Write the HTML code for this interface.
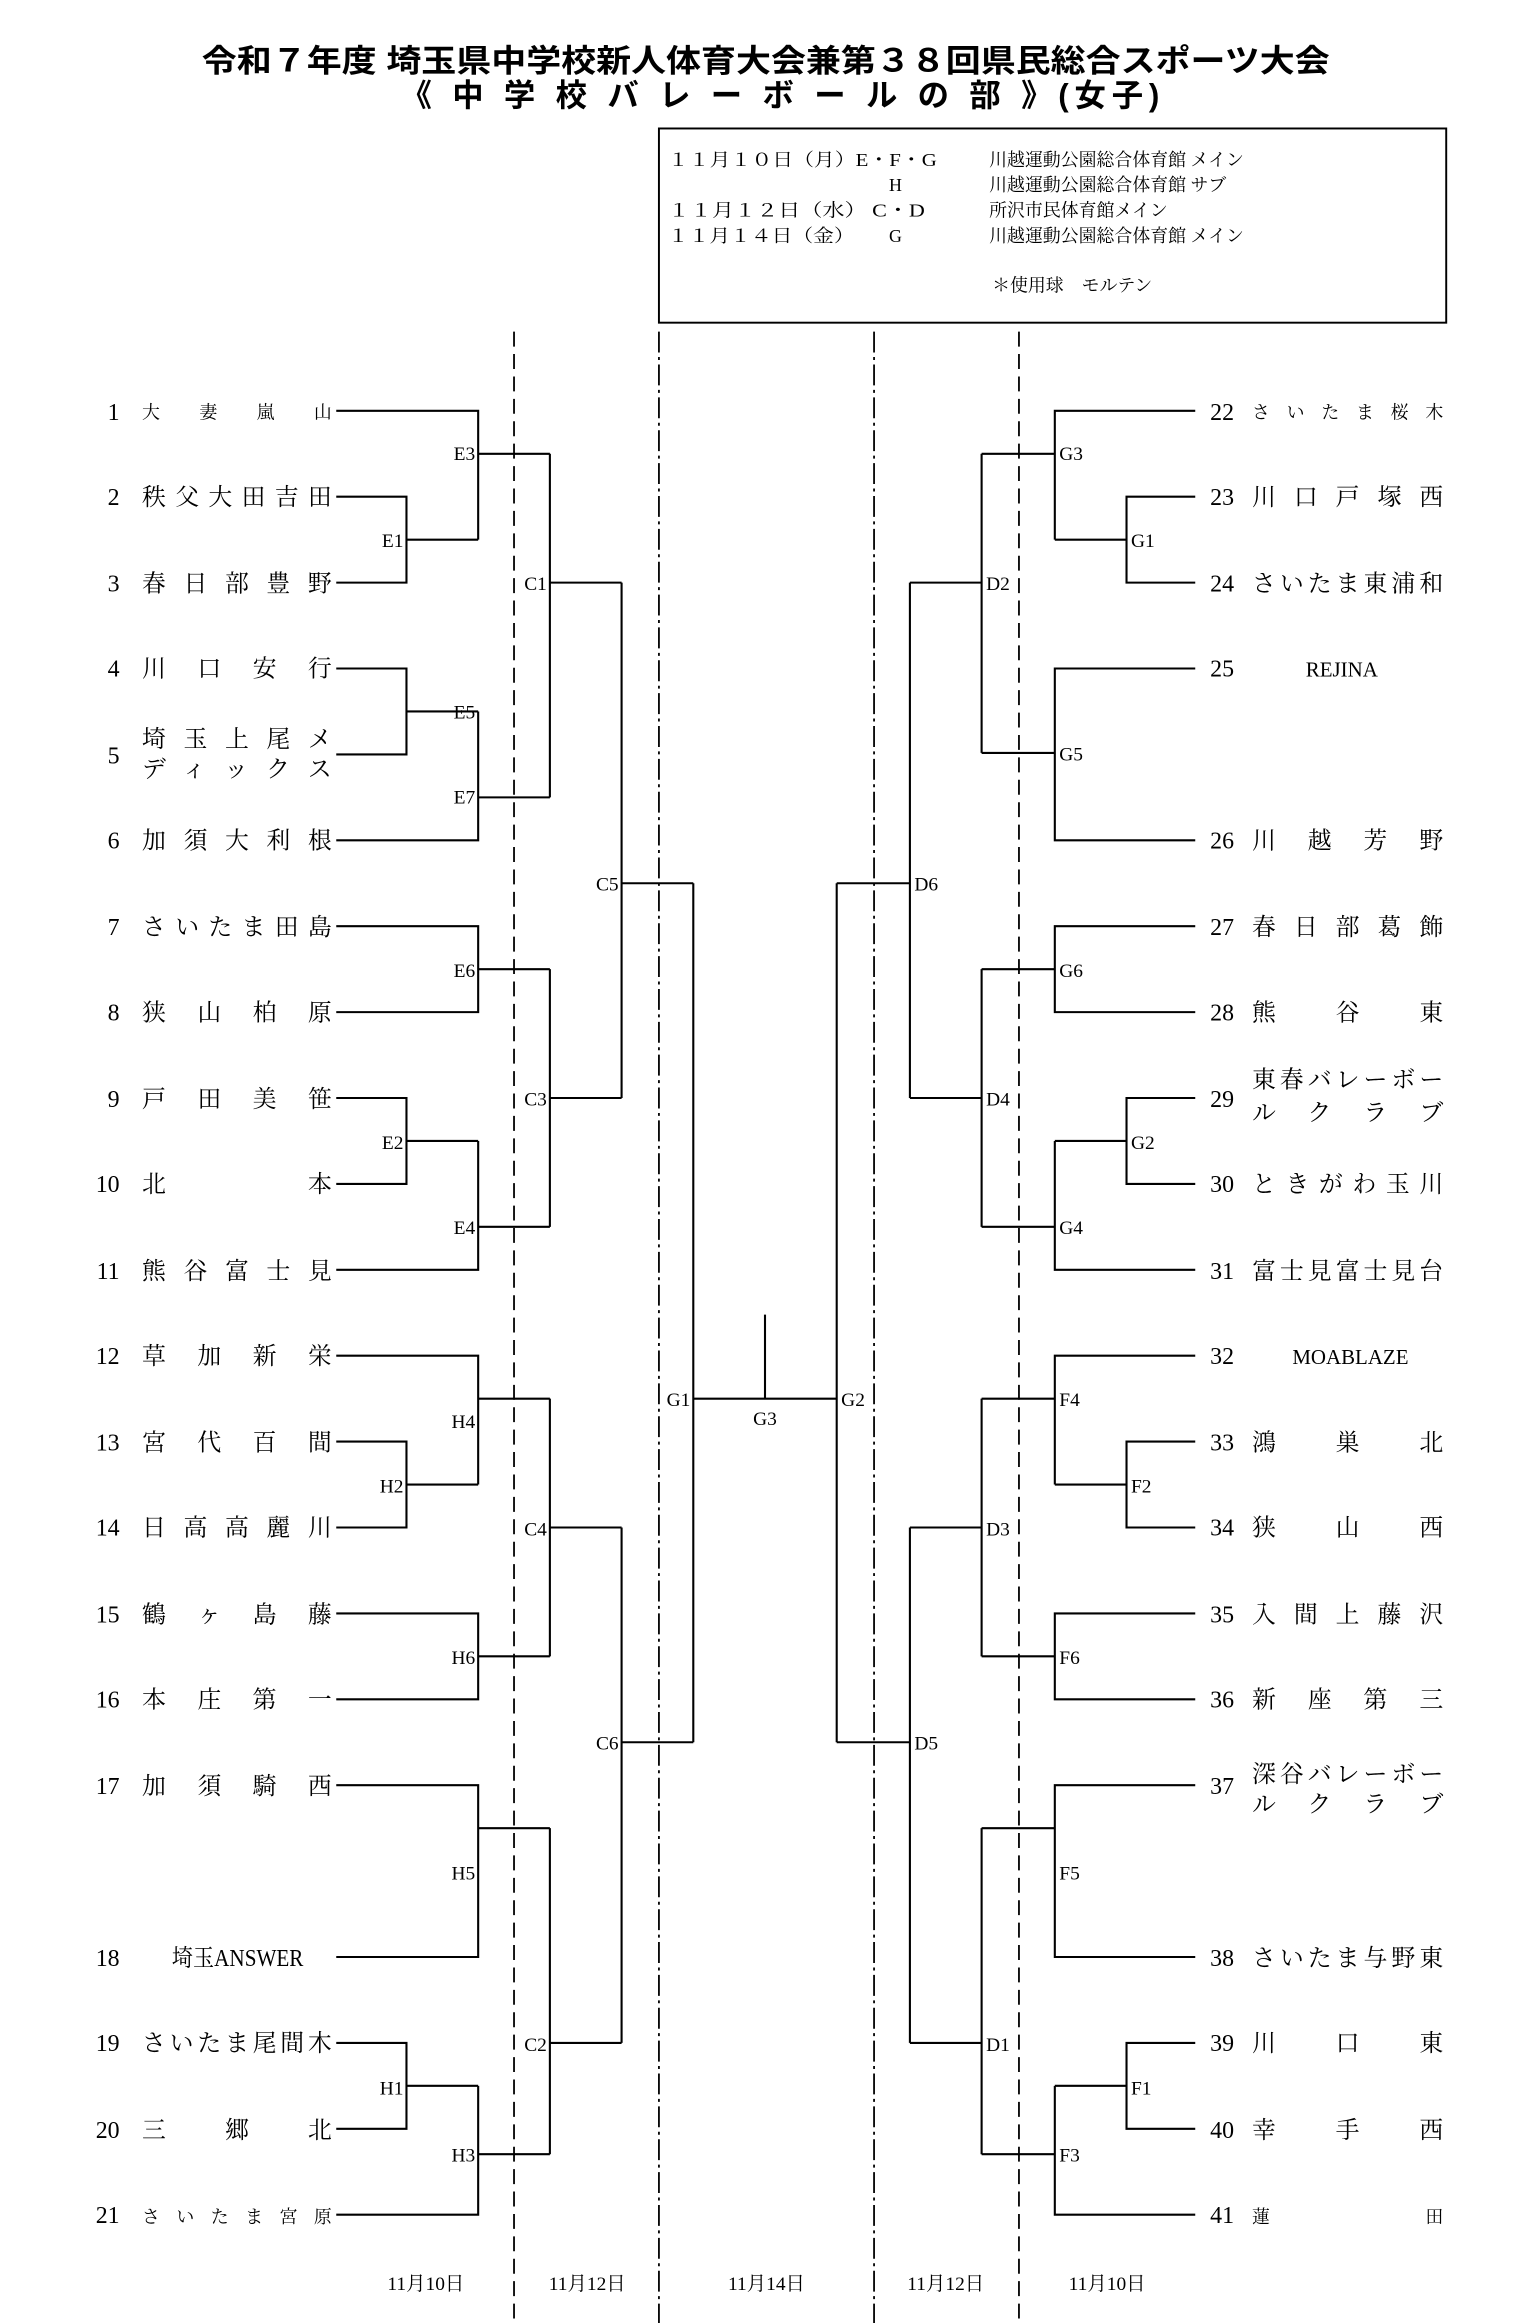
<!DOCTYPE html>
<html><head><meta charset="utf-8"><style>
html,body{margin:0;padding:0;background:#fff;}
svg{display:block;}
text{font-family:"Liberation Serif","Noto Serif CJK JP",serif;fill:#000;}
.g{font-family:"Liberation Sans","Noto Sans CJK JP",sans-serif;}
.t{font-size:16px;}
.s{font-size:12px;}
.l{font-size:13px;}
</style></head><body>
<svg width="1530" height="2323" viewBox="0 0 1024 1555" xmlns="http://www.w3.org/2000/svg">
<rect width="1024" height="1555" fill="#fff"/>
<text class="g" x="135" y="48" font-size="21" font-weight="bold" textLength="755" lengthAdjust="spacingAndGlyphs">令和７年度 埼玉県中学校新人体育大会兼第３８回県民総合スポーツ大会</text>
<text class="g" x="268" y="71" font-size="21" font-weight="bold" textLength="508" lengthAdjust="spacing">《 中 学 校 バ レ ー ボ ー ル の 部 》(女子)</text>
<rect x="441" y="86" width="527" height="130" fill="none" stroke="#000" stroke-width="1.3"/>
<g class="g" font-size="12">
<text x="447" y="111" textLength="180" lengthAdjust="spacingAndGlyphs">１１月１０日（月）E・F・G</text>
<text x="662" y="111">川越運動公園総合体育館 メイン</text>
<text x="595" y="128">H</text>
<text x="662" y="128">川越運動公園総合体育館 サブ</text>
<text x="447" y="145" textLength="172" lengthAdjust="spacingAndGlyphs">１１月１２日（水） C・D</text>
<text x="662" y="145">所沢市民体育館メイン</text>
<text x="447" y="162" textLength="125" lengthAdjust="spacingAndGlyphs">１１月１４日（金）</text>
<text x="595" y="162">G</text>
<text x="662" y="162">川越運動公園総合体育館 メイン</text>
<text x="664" y="195">＊使用球　モルテン</text>
</g>
<g stroke="#000" stroke-width="1.2" fill="none">
<line x1="344" y1="222" x2="344" y2="1555" stroke-dasharray="10,5"/>
<line x1="682" y1="222" x2="682" y2="1555" stroke-dasharray="10,5"/>
<line x1="441" y1="222" x2="441" y2="1555" stroke-dasharray="14,3,2,3"/>
<line x1="585" y1="222" x2="585" y2="1555" stroke-dasharray="14,3,2,3"/>
</g>
<g stroke="#000" stroke-width="1.4" fill="none">
<path d="M225,332.5H272V390H225M272,361.25H320"/>
<path d="M225,275H320V361.25M320,303.75H368"/>
<path d="M225,447.5H272V505H225M272,476.25H320"/>
<path d="M225,562.5H320V476.25M320,533.75H368"/>
<path d="M368,303.75V533.75M368,390H416"/>
<path d="M225,620H320V677.5H225M320,648.75H368"/>
<path d="M225,735H272V792.5H225M272,763.75H320"/>
<path d="M225,850H320V763.75M320,821.25H368"/>
<path d="M368,648.75V821.25M368,735H416"/>
<path d="M416,390V735M416,591.25H464"/>
<path d="M464,591.25V1166.25M464,936.25H560M512,880V936.25"/>
<path d="M225,965H272V1022.5H225M272,993.75H320"/>
<path d="M225,907.5H320V993.75M320,936.25H368"/>
<path d="M225,1080H320V1137.5H225M320,1108.75H368"/>
<path d="M368,936.25V1108.75M368,1022.5H416"/>
<path d="M225,1195H320V1310H225M320,1223.75H368"/>
<path d="M225,1367.5H272V1425H225M272,1396.25H320"/>
<path d="M225,1482.5H320V1396.25M320,1442H368"/>
<path d="M368,1223.75V1442M368,1367.5H416"/>
<path d="M416,1022.5V1367.5M416,1166.25H464"/>
<path d="M800,332.5H754V390H800M754,361.25H706"/>
<path d="M800,275H706V361.25M706,303.75H657"/>
<path d="M800,447.5H706V562.5H800M706,504H657"/>
<path d="M657,303.75V504M657,390H609"/>
<path d="M609,390V735M609,591.25H560"/>
<path d="M800,620H706V677.5H800M706,648.75H657"/>
<path d="M800,735H754V792.5H800M754,763.75H706"/>
<path d="M800,850H706V763.75M706,821.25H657"/>
<path d="M657,648.75V821.25M657,735H609"/>
<path d="M560,591.25V1166.25"/>
<path d="M800,965H754V1022.5H800M754,993.75H706"/>
<path d="M800,907.5H706V993.75M706,936.25H657"/>
<path d="M800,1080H706V1137.5H800M706,1108.75H657"/>
<path d="M657,936.25V1108.75M657,1022.5H609"/>
<path d="M609,1022.5V1367.5M609,1166.25H560"/>
<path d="M800,1195H706V1310H800M706,1223.75H657"/>
<path d="M800,1367.5H754V1425H800M754,1396.25H706"/>
<path d="M800,1482.5H706V1396.25M706,1442H657"/>
<path d="M657,1223.75V1442M657,1367.5H609"/>
</g>
<g class="l" text-anchor="end">
<text x="318" y="308">E3</text><text x="270" y="366">E1</text><text x="318" y="481">E5</text><text x="318" y="538">E7</text>
<text x="366" y="395">C1</text><text x="414" y="596">C5</text><text x="318" y="654">E6</text><text x="270" y="769">E2</text>
<text x="318" y="826">E4</text><text x="366" y="740">C3</text><text x="462" y="941">G1</text>
<text x="318" y="956">H4</text><text x="270" y="999">H2</text><text x="366" y="1028">C4</text><text x="318" y="1114">H6</text>
<text x="414" y="1171">C6</text><text x="318" y="1258">H5</text><text x="270" y="1402">H1</text><text x="318" y="1447">H3</text><text x="366" y="1373">C2</text>
</g>
<text class="l" x="512" y="954" text-anchor="middle">G3</text>
<g class="l">
<text x="709" y="308">G3</text><text x="757" y="366">G1</text><text x="709" y="509">G5</text><text x="660" y="395">D2</text>
<text x="612" y="596">D6</text><text x="709" y="654">G6</text><text x="757" y="769">G2</text><text x="709" y="826">G4</text>
<text x="660" y="740">D4</text><text x="563" y="941">G2</text>
<text x="709" y="941">F4</text><text x="757" y="999">F2</text><text x="660" y="1028">D3</text><text x="709" y="1114">F6</text>
<text x="612" y="1171">D5</text><text x="709" y="1258">F5</text><text x="757" y="1402">F1</text><text x="709" y="1447">F3</text><text x="660" y="1373">D1</text>
</g>
<g class="t">
<g text-anchor="end">
<text x="80" y="281">1</text><text x="80" y="338">2</text><text x="80" y="396">3</text><text x="80" y="453">4</text><text x="80" y="511">5</text>
<text x="80" y="568">6</text><text x="80" y="626">7</text><text x="80" y="683">8</text><text x="80" y="741">9</text><text x="80" y="798">10</text>
<text x="80" y="856">11</text><text x="80" y="913">12</text><text x="80" y="971">13</text><text x="80" y="1028">14</text><text x="80" y="1086">15</text>
<text x="80" y="1143">16</text><text x="80" y="1201">17</text><text x="80" y="1316">18</text><text x="80" y="1373">19</text><text x="80" y="1431">20</text><text x="80" y="1488">21</text>
</g>
<text class="s" x="95" y="280" textLength="127" lengthAdjust="spacing">大妻嵐山</text>
<text x="95" y="338" textLength="127" lengthAdjust="spacing">秩父大田吉田</text>
<text x="95" y="396" textLength="127" lengthAdjust="spacing">春日部豊野</text>
<text x="95" y="453" textLength="127" lengthAdjust="spacing">川口安行</text>
<text x="95" y="500" textLength="127" lengthAdjust="spacing">埼玉上尾メ</text>
<text x="95" y="520" textLength="127" lengthAdjust="spacing">ディックス</text>
<text x="95" y="568" textLength="127" lengthAdjust="spacing">加須大利根</text>
<text x="95" y="626" textLength="127" lengthAdjust="spacing">さいたま田島</text>
<text x="95" y="683" textLength="127" lengthAdjust="spacing">狭山柏原</text>
<text x="95" y="741" textLength="127" lengthAdjust="spacing">戸田美笹</text>
<text x="95" y="798" textLength="127" lengthAdjust="spacing">北本</text>
<text x="95" y="856" textLength="127" lengthAdjust="spacing">熊谷富士見</text>
<text x="95" y="913" textLength="127" lengthAdjust="spacing">草加新栄</text>
<text x="95" y="971" textLength="127" lengthAdjust="spacing">宮代百間</text>
<text x="95" y="1028" textLength="127" lengthAdjust="spacing">日高高麗川</text>
<text x="95" y="1086" textLength="127" lengthAdjust="spacing">鶴ヶ島藤</text>
<text x="95" y="1143" textLength="127" lengthAdjust="spacing">本庄第一</text>
<text x="95" y="1201" textLength="127" lengthAdjust="spacing">加須騎西</text>
<text x="115" y="1316" textLength="88" lengthAdjust="spacingAndGlyphs">埼玉ANSWER</text>
<text x="95" y="1373" textLength="127" lengthAdjust="spacing">さいたま尾間木</text>
<text x="95" y="1431" textLength="127" lengthAdjust="spacing">三郷北</text>
<text class="s" x="95" y="1488" textLength="127" lengthAdjust="spacing">さいたま宮原</text>
</g>
<g class="t">
<text x="810" y="281">22</text><text x="810" y="338">23</text><text x="810" y="396">24</text><text x="810" y="453">25</text><text x="810" y="568">26</text>
<text x="810" y="626">27</text><text x="810" y="683">28</text><text x="810" y="741">29</text><text x="810" y="798">30</text><text x="810" y="856">31</text>
<text x="810" y="913">32</text><text x="810" y="971">33</text><text x="810" y="1028">34</text><text x="810" y="1086">35</text><text x="810" y="1143">36</text>
<text x="810" y="1201">37</text><text x="810" y="1316">38</text><text x="810" y="1373">39</text><text x="810" y="1431">40</text><text x="810" y="1488">41</text>
<text class="s" x="838" y="280" textLength="128" lengthAdjust="spacing">さいたま桜木</text>
<text x="838" y="338" textLength="128" lengthAdjust="spacing">川口戸塚西</text>
<text x="838" y="396" textLength="128" lengthAdjust="spacing">さいたま東浦和</text>
<text x="874" y="453" font-size="14">REJINA</text>
<text x="838" y="568" textLength="128" lengthAdjust="spacing">川越芳野</text>
<text x="838" y="626" textLength="128" lengthAdjust="spacing">春日部葛飾</text>
<text x="838" y="683" textLength="128" lengthAdjust="spacing">熊谷東</text>
<text x="838" y="728" textLength="128" lengthAdjust="spacing">東春バレーボー</text>
<text x="838" y="750" textLength="128" lengthAdjust="spacing">ルクラブ</text>
<text x="838" y="798" textLength="128" lengthAdjust="spacing">ときがわ玉川</text>
<text x="838" y="856" textLength="128" lengthAdjust="spacing">富士見富士見台</text>
<text x="865" y="913" font-size="14">MOABLAZE</text>
<text x="838" y="971" textLength="128" lengthAdjust="spacing">鴻巣北</text>
<text x="838" y="1028" textLength="128" lengthAdjust="spacing">狭山西</text>
<text x="838" y="1086" textLength="128" lengthAdjust="spacing">入間上藤沢</text>
<text x="838" y="1143" textLength="128" lengthAdjust="spacing">新座第三</text>
<text x="838" y="1193" textLength="128" lengthAdjust="spacing">深谷バレーボー</text>
<text x="838" y="1213" textLength="128" lengthAdjust="spacing">ルクラブ</text>
<text x="838" y="1316" textLength="128" lengthAdjust="spacing">さいたま与野東</text>
<text x="838" y="1373" textLength="128" lengthAdjust="spacing">川口東</text>
<text x="838" y="1431" textLength="128" lengthAdjust="spacing">幸手西</text>
<text class="s" x="838" y="1488" textLength="128" lengthAdjust="spacing">蓮田</text>
</g>
<g class="l" text-anchor="middle">
<text x="285" y="1533">11月10日</text><text x="393" y="1533">11月12日</text><text x="513" y="1533">11月14日</text>
<text x="633" y="1533">11月12日</text><text x="741" y="1533">11月10日</text>
</g>
</svg>
</body></html>
